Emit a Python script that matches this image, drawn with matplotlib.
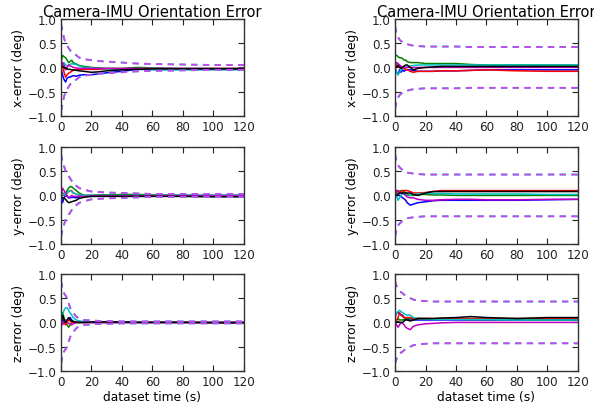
import matplotlib
matplotlib.use('Agg')
import matplotlib.pyplot as plt

# sample times (s)
t = [0, 1, 2, 3, 4, 5, 6, 7, 8, 10, 12, 15, 20, 25, 30, 40, 50, 60, 80, 100, 120]

# left column, x-error
lx_b = [0.0, -0.15, -0.25, -0.3, -0.22, -0.2, -0.2, -0.18, -0.17, -0.18, -0.16, -0.15, -0.15, -0.13, -0.11, -0.08, -0.04, -0.03, -0.03, -0.03, -0.03]
lx_g = [0.1, 0.25, 0.22, 0.2, 0.15, 0.1, 0.12, 0.15, 0.1, 0.07, 0.04, 0.02, 0.0, -0.01, -0.02, -0.02, 0.0, -0.01, -0.02, -0.02, -0.02]
lx_r = [0.0, 0.05, -0.1, -0.2, -0.15, -0.12, -0.1, -0.08, -0.06, -0.05, -0.04, -0.04, -0.04, -0.04, -0.03, -0.03, -0.03, -0.03, -0.03, -0.03, -0.03]
lx_c = [0.0, 0.08, 0.1, 0.05, 0.03, 0.05, 0.06, 0.08, 0.07, 0.06, 0.03, 0.0, -0.01, -0.02, -0.03, -0.03, -0.04, -0.05, -0.05, -0.05, -0.05]
lx_m = [0.0, 0.1, 0.05, -0.05, 0.0, 0.05, 0.03, 0.02, 0.0, -0.01, -0.02, -0.02, -0.02, -0.02, -0.02, -0.02, -0.02, -0.02, -0.02, -0.02, -0.02]
lx_k = [0.0, 0.02, 0.0, -0.02, -0.03, -0.04, -0.04, -0.05, -0.05, -0.06, -0.07, -0.08, -0.1, -0.09, -0.07, -0.05, -0.04, -0.03, -0.03, -0.03, -0.03]
lx_s = [0.9, 0.75, 0.6, 0.5, 0.45, 0.4, 0.35, 0.32, 0.3, 0.25, 0.2, 0.17, 0.15, 0.13, 0.12, 0.1, 0.08, 0.07, 0.06, 0.05, 0.05]

# right column, x-error
rx_b = [0.0, -0.1, -0.15, -0.05, -0.1, -0.05, -0.08, -0.05, -0.05, -0.05, -0.06, -0.08, -0.08, -0.08, -0.07, -0.07, -0.06, -0.05, -0.05, -0.05, -0.05]
rx_g = [0.25, 0.25, 0.22, 0.2, 0.2, 0.18, 0.15, 0.15, 0.12, 0.1, 0.1, 0.1, 0.08, 0.08, 0.08, 0.08, 0.06, 0.05, 0.05, 0.05, 0.05]
rx_r = [0.0, 0.05, 0.0, 0.0, 0.02, 0.0, -0.02, -0.04, -0.05, -0.08, -0.1, -0.08, -0.08, -0.08, -0.07, -0.07, -0.06, -0.05, -0.07, -0.08, -0.08]
rx_c = [0.0, -0.1, -0.15, -0.1, -0.05, 0.0, 0.02, 0.0, 0.0, 0.03, 0.04, 0.05, 0.05, 0.05, 0.05, 0.05, 0.05, 0.05, 0.05, 0.05, 0.05]
rx_m = [0.0, 0.1, 0.08, 0.05, 0.02, 0.0, 0.0, 0.0, 0.0, 0.0, 0.0, 0.0, 0.0, 0.0, 0.0, 0.0, 0.0, 0.0, 0.0, 0.0, 0.0]
rx_k = [0.0, 0.0, 0.05, 0.0, -0.02, 0.0, 0.03, 0.05, 0.05, 0.0, -0.05, -0.02, 0.0, 0.01, 0.02, 0.02, 0.02, 0.02, 0.02, 0.02, 0.02]
rx_s = [0.85, 0.7, 0.62, 0.57, 0.54, 0.52, 0.5, 0.49, 0.48, 0.46, 0.45, 0.44, 0.43, 0.43, 0.43, 0.43, 0.42, 0.42, 0.42, 0.42, 0.42]

# left column, y-error
ly_b = [0.0, -0.15, -0.05, 0.0, -0.02, -0.05, -0.05, -0.04, -0.04, -0.05, -0.03, 0.0, 0.0, 0.0, 0.0, 0.0, 0.0, 0.0, 0.0, 0.0, 0.0]
ly_g = [0.0, 0.05, 0.0, 0.05, 0.1, 0.15, 0.18, 0.18, 0.15, 0.1, 0.05, 0.0, 0.0, 0.01, 0.01, 0.02, 0.02, 0.01, 0.0, 0.0, 0.0]
ly_r = [0.0, 0.05, 0.0, 0.05, 0.05, 0.08, 0.1, 0.1, 0.05, 0.03, 0.0, -0.01, -0.01, -0.01, -0.01, -0.01, -0.01, -0.01, -0.01, -0.01, -0.01]
ly_c = [0.0, 0.0, 0.05, 0.0, 0.05, 0.08, 0.1, 0.08, 0.05, 0.03, 0.01, 0.0, 0.0, 0.0, 0.0, 0.0, 0.0, 0.0, 0.0, 0.0, 0.0]
ly_m = [0.0, 0.15, 0.1, 0.05, 0.0, -0.05, -0.03, 0.0, -0.02, -0.02, -0.02, -0.02, -0.01, -0.01, -0.01, -0.01, -0.01, -0.01, -0.01, -0.01, -0.01]
ly_k = [0.0, -0.05, -0.05, -0.08, -0.12, -0.15, -0.14, -0.13, -0.12, -0.1, -0.06, -0.04, -0.02, -0.02, -0.02, -0.02, -0.02, -0.02, -0.02, -0.03, -0.03]
ly_s = [0.85, 0.7, 0.6, 0.5, 0.45, 0.4, 0.35, 0.3, 0.25, 0.2, 0.15, 0.12, 0.08, 0.07, 0.06, 0.05, 0.04, 0.03, 0.03, 0.03, 0.03]

# right column, y-error
ry_b = [0.0, 0.05, 0.0, 0.0, -0.02, -0.05, -0.07, -0.1, -0.15, -0.2, -0.18, -0.15, -0.13, -0.11, -0.1, -0.1, -0.1, -0.1, -0.1, -0.09, -0.08]
ry_g = [0.0, 0.05, 0.1, 0.08, 0.1, 0.1, 0.08, 0.05, 0.02, 0.0, 0.0, 0.02, 0.02, 0.01, 0.01, 0.0, 0.0, 0.0, 0.0, 0.0, 0.0]
ry_r = [0.0, 0.1, 0.1, 0.05, 0.08, 0.1, 0.1, 0.1, 0.1, 0.08, 0.05, 0.05, 0.06, 0.08, 0.1, 0.1, 0.1, 0.1, 0.1, 0.1, 0.1]
ry_c = [0.0, 0.0, -0.1, -0.05, 0.0, 0.05, 0.03, 0.02, 0.0, 0.0, 0.02, 0.03, 0.05, 0.04, 0.04, 0.03, 0.03, 0.03, 0.03, 0.02, 0.02]
ry_m = [0.1, 0.1, 0.08, 0.05, 0.05, 0.05, 0.02, 0.0, -0.03, -0.05, -0.05, -0.08, -0.1, -0.1, -0.09, -0.08, -0.08, -0.09, -0.09, -0.08, -0.08]
ry_k = [0.0, 0.0, 0.02, 0.05, 0.05, 0.05, 0.05, 0.05, 0.05, 0.05, 0.02, 0.0, 0.05, 0.08, 0.08, 0.08, 0.08, 0.08, 0.08, 0.08, 0.08]
ry_s = [0.85, 0.7, 0.62, 0.58, 0.55, 0.52, 0.5, 0.48, 0.47, 0.46, 0.45, 0.44, 0.43, 0.43, 0.43, 0.43, 0.43, 0.43, 0.43, 0.43, 0.43]

# left column, z-error
lz_b = [0.0, 0.05, 0.0, 0.02, 0.05, 0.08, 0.1, 0.05, 0.02, 0.0, 0.0, 0.0, 0.0, 0.0, 0.0, 0.0, 0.0, 0.0, 0.0, 0.0, 0.0]
lz_g = [0.0, 0.2, 0.1, 0.0, -0.05, -0.1, -0.05, 0.0, 0.02, 0.0, 0.0, 0.0, 0.0, 0.0, 0.0, 0.0, 0.0, 0.0, 0.0, 0.0, 0.0]
lz_r = [0.0, 0.0, -0.02, -0.05, 0.0, 0.05, 0.03, 0.0, 0.0, 0.0, 0.0, 0.0, 0.0, 0.0, 0.0, 0.0, 0.0, 0.0, 0.0, 0.0, 0.0]
lz_c = [0.1, 0.15, 0.25, 0.3, 0.3, 0.25, 0.2, 0.15, 0.1, 0.05, 0.03, 0.02, 0.01, 0.01, 0.0, 0.0, 0.0, 0.0, 0.0, 0.0, 0.0]
lz_m = [0.0, -0.05, 0.0, 0.05, 0.0, -0.02, -0.03, -0.05, -0.03, 0.0, 0.0, 0.0, 0.0, 0.0, 0.0, 0.0, 0.0, 0.0, 0.0, 0.0, 0.0]
lz_k = [0.0, 0.15, 0.05, 0.0, 0.05, 0.1, 0.05, 0.03, 0.02, 0.0, 0.0, 0.0, 0.01, 0.01, 0.01, 0.01, 0.0, 0.0, 0.0, -0.01, -0.01]
lz_s = [0.85, 0.7, 0.6, 0.55, 0.5, 0.4, 0.3, 0.25, 0.2, 0.12, 0.08, 0.05, 0.04, 0.03, 0.03, 0.02, 0.02, 0.02, 0.02, 0.02, 0.02]

# right column, z-error
rz_b = [0.1, 0.2, 0.2, 0.18, 0.15, 0.15, 0.1, 0.08, 0.06, 0.05, 0.05, 0.05, 0.05, 0.05, 0.05, 0.05, 0.05, 0.05, 0.05, 0.05, 0.05]
rz_g = [0.0, 0.05, 0.08, 0.05, 0.05, 0.05, 0.06, 0.07, 0.07, 0.08, 0.08, 0.08, 0.08, 0.07, 0.07, 0.07, 0.06, 0.06, 0.06, 0.05, 0.05]
rz_r = [0.0, 0.05, 0.1, 0.2, 0.15, 0.12, 0.1, 0.1, 0.1, 0.1, 0.08, 0.08, 0.08, 0.08, 0.08, 0.08, 0.08, 0.08, 0.08, 0.08, 0.08]
rz_c = [0.1, 0.2, 0.22, 0.25, 0.22, 0.2, 0.18, 0.16, 0.15, 0.15, 0.1, 0.08, 0.07, 0.06, 0.06, 0.06, 0.06, 0.06, 0.05, 0.05, 0.05]
rz_m = [0.0, -0.05, -0.1, -0.05, 0.0, -0.02, -0.05, -0.1, -0.12, -0.15, -0.08, -0.05, -0.03, -0.02, -0.01, 0.0, 0.0, 0.0, 0.0, 0.0, 0.0]
rz_k = [0.0, 0.0, 0.02, 0.0, 0.0, 0.0, 0.03, 0.05, 0.05, 0.03, 0.05, 0.08, 0.08, 0.08, 0.09, 0.1, 0.12, 0.1, 0.08, 0.1, 0.1]
rz_s = [0.85, 0.75, 0.7, 0.65, 0.62, 0.6, 0.57, 0.55, 0.53, 0.5, 0.47, 0.45, 0.44, 0.43, 0.43, 0.43, 0.43, 0.43, 0.43, 0.43, 0.43]

colors = ['b', 'g', 'r', 'c', 'm', 'k']
ylabels = ['x-error (deg)', 'y-error (deg)', 'z-error (deg)']
xticks = [0, 20, 40, 60, 80, 100, 120]
yticks = [-1.0, -0.5, 0.0, 0.5, 1.0]

panels = [
    [(lx_b, lx_g, lx_r, lx_c, lx_m, lx_k), lx_s, (rx_b, rx_g, rx_r, rx_c, rx_m, rx_k), rx_s],
    [(ly_b, ly_g, ly_r, ly_c, ly_m, ly_k), ly_s, (ry_b, ry_g, ry_r, ry_c, ry_m, ry_k), ry_s],
    [(lz_b, lz_g, lz_r, lz_c, lz_m, lz_k), lz_s, (rz_b, rz_g, rz_r, rz_c, rz_m, rz_k), rz_s],
]

fig = plt.figure(figsize=(5.94, 4.10), dpi=100, facecolor='white')
lefts = [0.1027, 0.665]
bottoms = [0.7146, 0.4024, 0.0927]
w, h = 0.308, 0.237

for row in range(3):
    for col in range(2):
        lines = panels[row][col * 2]
        bound = panels[row][col * 2 + 1]
        ax = fig.add_axes([lefts[col], bottoms[row], w, h])
        for c, y in zip(colors, lines):
            ax.plot(t, y, color=c, lw=1.1)
        # sigma bounds of the runs, drawn over each other
        for c in ['c', '#c846f0']:
            ax.plot(t, bound, color=c, lw=1.3, dashes=(3.5, 3))
            ax.plot(t, [-v for v in bound], color=c, lw=1.3, dashes=(3.5, 3))
        ax.set_xlim(0, 120)
        ax.set_ylim(-1.0, 1.0)
        ax.set_xticks(xticks)
        ax.set_yticks(yticks)
        ax.tick_params(direction='in', top=True, right=True, labelsize=8.6,
                       length=4, width=0.8, pad=3, colors='#222222')
        for s in ax.spines.values():
            s.set_color('#333333')
            s.set_linewidth(1.0)
        ax.set_ylabel(ylabels[row], fontsize=8.8, labelpad=2)
        if row == 0:
            ax.set_title('Camera-IMU Orientation Error', fontsize=10.5, pad=2)
        if row == 2:
            ax.set_xlabel('dataset time (s)', fontsize=8.8, labelpad=1)

fig.savefig('out.png', dpi=100, facecolor='white')
